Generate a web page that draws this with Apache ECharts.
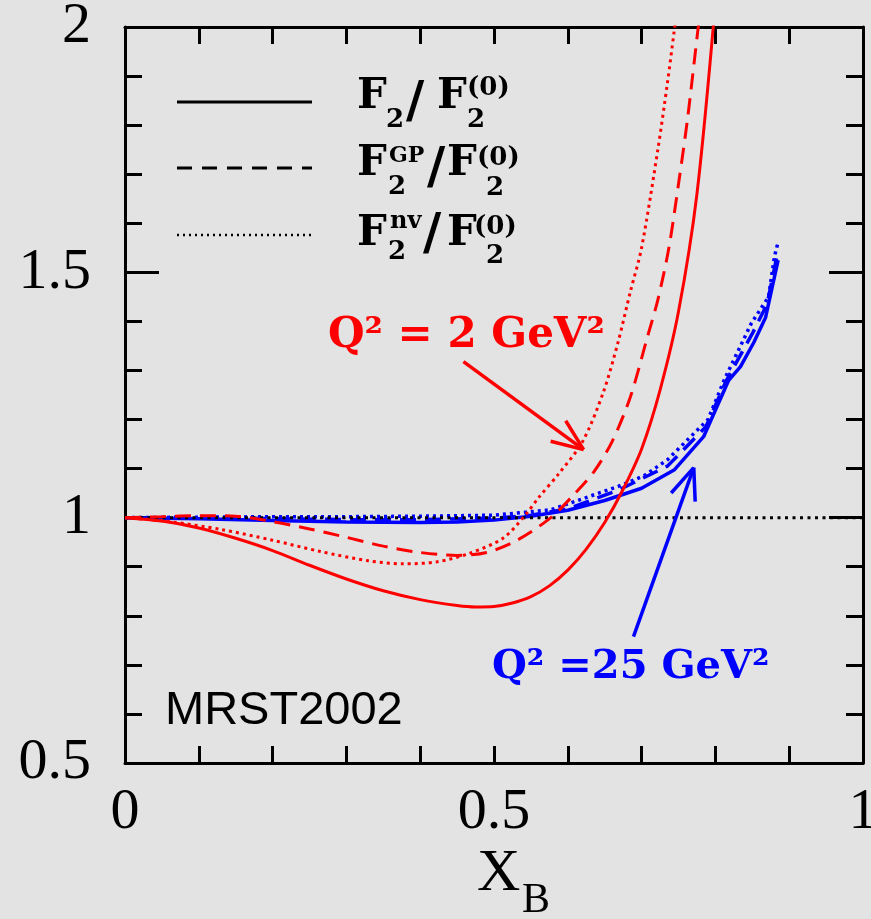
<!DOCTYPE html>
<html><head><meta charset="utf-8">
<script src="https://cdn.jsdelivr.net/npm/echarts@6/dist/echarts.min.js"></script>
<style>html,body{margin:0;padding:0;background:#e3e3e3;} #c{width:871px;height:919px;}</style>
</head><body><div id="c"></div>
<script>
// ---- data (x_B, ratio) ----
const lowQ2Full = [[0,1.0],[0.05,0.993],[0.1,0.979],[0.15,0.958],[0.2,0.933],[0.25,0.903],[0.3,0.875],[0.35,0.851],[0.4,0.833],[0.45,0.821],[0.475,0.818],[0.5,0.819],[0.525,0.826],[0.55,0.839],[0.575,0.861],[0.6,0.893],[0.625,0.936],[0.65,0.99],[0.675,1.058],[0.7,1.14],[0.725,1.26],[0.75,1.42],[0.775,1.66],[0.8,2.05]];
const lowQ2GP = [[0,1.0],[0.05,1.002],[0.1,1.004],[0.15,1.003],[0.2,0.992],[0.25,0.977],[0.3,0.96],[0.35,0.942],[0.4,0.929],[0.45,0.923],[0.49,0.929],[0.53,0.953],[0.577,1.0],[0.61,1.05],[0.636,1.095],[0.66,1.155],[0.685,1.247],[0.708,1.369],[0.722,1.444],[0.737,1.55],[0.75,1.68],[0.762,1.81],[0.776,1.99],[0.785,2.1]];
const lowQ2NV = [[0,1.0],[0.06,0.992],[0.13,0.976],[0.2,0.954],[0.265,0.931],[0.33,0.912],[0.377,0.906],[0.423,0.91],[0.468,0.928],[0.513,0.959],[0.545,1.01],[0.56,1.04],[0.588,1.09],[0.62,1.155],[0.648,1.255],[0.668,1.357],[0.685,1.462],[0.7,1.55],[0.722,1.75],[0.735,1.886],[0.744,1.99],[0.75,2.06]];
const highQ2Full = [[0,1.0],[0.1,0.998],[0.2,0.994],[0.3,0.991],[0.4,0.99],[0.45,0.991],[0.5,0.995],[0.55,1.003],[0.6,1.015],[0.65,1.035],[0.7,1.06],[0.744,1.097],[0.784,1.165],[0.818,1.28],[0.834,1.308],[0.852,1.357],[0.868,1.408],[0.885,1.525]];
const highQ2GP = [[0,1.0],[0.1,1.0],[0.2,0.998],[0.3,0.996],[0.4,0.996],[0.5,0.999],[0.55,1.005],[0.6,1.018],[0.667,1.055],[0.735,1.105],[0.787,1.185],[0.815,1.28],[0.85,1.375],[0.87,1.435],[0.885,1.545]];
const highQ2NV = [[0,1.0],[0.1,1.001],[0.2,1.002],[0.3,1.002],[0.4,1.003],[0.5,1.005],[0.577,1.016],[0.667,1.063],[0.703,1.085],[0.735,1.118],[0.79,1.2],[0.812,1.281],[0.849,1.397],[0.872,1.45],[0.88,1.532],[0.885,1.562]];
const unityLine = [[0,1],[1,1]];
const xTickLabels = ['0','0.5','1'];
const yTickLabels = ['0.5','1','1.5','2'];
// annotation arrows in data coordinates: [from, to]
const redArrow = [[0.4586,1.318],[0.6214,1.1386]];
const blueArrow = [[0.689,0.7575],[0.7707,1.102]];

const SERIF = '"Liberation Serif", "Times New Roman", serif';
const DSERIF = '"DejaVu Serif", serif';
const RED = '#ff0000', BLUE = '#0000ff', BLK = '#000000';
const chart = echarts.init(document.getElementById('c'), null, {renderer:'canvas'});

function lab(list){
  return function(v){
    const s = String(Math.round(v*1000)/1000);
    return list.indexOf(s) >= 0 ? s : '';
  };
}
const tickStyle = {color:BLK, width:3};
function xAxisDef(pos, showLabel){
  return {type:'value', min:0, max:1, interval:0.1, position:pos,
    axisLine:{show:true, onZero:false, lineStyle:{color:BLK, width:3}},
    axisTick:{show:true, inside:true, length:17, lineStyle:tickStyle},
    axisLabel:{show:showLabel, formatter:lab(xTickLabels), fontFamily:SERIF, fontSize:58, color:BLK, margin:21, showMinLabel:true, showMaxLabel:true, hideOverlap:false},
    splitLine:{show:false}};
}
function yAxisDef(pos, showLabel){
  return {type:'value', min:0.5, max:2, interval:0.5, position:pos,
    axisLine:{show:true, onZero:false, lineStyle:{color:BLK, width:3}},
    axisTick:{show:true, inside:true, length:34, lineStyle:tickStyle},
    minorTick:{show:true, splitNumber:5, length:17, lineStyle:tickStyle},
    axisLabel:{show:showLabel, formatter:lab(yTickLabels), fontFamily:SERIF, fontSize:58, color:BLK, margin:34, showMinLabel:true, showMaxLabel:true, hideOverlap:false},
    splitLine:{show:false}};
}
function line(data, color, type, width, smooth){
  return {type:'line', data:data, symbol:'none', smooth:smooth, clip:true, silent:true,
    lineStyle:{color:color, width:width, type:type, cap:'butt'}};
}
chart.setOption({
  animation:false,
  backgroundColor:'#e3e3e3',
  grid:{left:125, right:8, top:27, bottom:156, containLabel:false, outerBoundsMode:'none'},
  xAxis:[xAxisDef('bottom', true), xAxisDef('top', false)],
  yAxis:[yAxisDef('left', true), yAxisDef('right', false)],
  series:[
    line(highQ2NV, BLUE, [3,4], 3.5, false),
    line(highQ2GP, BLUE, [16,9], 3.5, false),
    line(highQ2Full, BLUE, 'solid', 3.5, false),
    line(unityLine, BLK, [3,4.5], 3, false),
    line(lowQ2NV, RED, [3,4], 3, 0.3),
    line(lowQ2GP, RED, [16,9], 3, 0.3),
    line(lowQ2Full, RED, 'solid', 3, 0.3)
  ]
});

const G = [];
function txt(s, x, cy, size, weight, color, fam){
  G.push({type:'text', x:x, y:cy, z:50, silent:true,
    style:{text:s, font:(weight||'normal')+' '+size+'px '+(fam||DSERIF), fill:color||BLK,
      align:'left', verticalAlign:'middle', textAlign:'left', textVerticalAlign:'middle'}});
}
function seg(x1,y1,x2,y2,color,width,dash){
  G.push({type:'line', z:50, silent:true, shape:{x1:x1,y1:y1,x2:x2,y2:y2},
    style:{stroke:color, lineWidth:width, lineDash:dash||null}});
}
// legend keys
seg(177,102,312,102,BLK,3,null);
seg(177,168,312,168,BLK,3,[15,10]);
seg(177,235,312,235,BLK,2.5,[2,4]);
// legend formulas
txt('F',357,97,42,'bold'); txt('2',386,120,26,'bold'); txt('/',406,104,50,'bold');
txt('F',437,97,42,'bold'); txt('(0)',467,88,26,'bold'); txt('2',467,120,26,'bold');
txt('F',357,164,42,'bold'); txt('GP',389,156,22,'bold'); txt('2',388,187,26,'bold'); txt('/',427,170,50,'bold');
txt('F',447,164,42,'bold'); txt('(0)',477,158,26,'bold'); txt('2',486,188,26,'bold');
txt('F',357,234,42,'bold'); txt('nv',390,222,24,'bold'); txt('2',388,252,26,'bold'); txt('/',423,236,50,'bold');
txt('F',447,234,42,'bold'); txt('(0)',474,227,26,'bold'); txt('2',486,256,26,'bold');
// annotations
txt('Q² = 2 GeV²',328,336,42,'bold',RED);
txt('Q² =25 GeV²',492,668,40,'bold',BLUE);
G.push({type:'text', x:165, y:711, z:50, silent:true,
  style:{text:'MRST2002', font:'normal 47px "Liberation Sans", Arial, sans-serif', fill:BLK,
    align:'left', verticalAlign:'middle', textAlign:'left', textVerticalAlign:'middle'}});
// axis title
txt('X',477,874,60,'normal',BLK,SERIF);
txt('B',522,901,42,'normal',BLK,SERIF);
// arrows
function arrow(pair, color){
  const p0 = chart.convertToPixel({gridIndex:0}, pair[0]);
  const p1 = chart.convertToPixel({gridIndex:0}, pair[1]);
  seg(p0[0],p0[1],p1[0],p1[1],color,3.5,null);
  const ang = Math.atan2(p1[1]-p0[1], p1[0]-p0[0]);
  const L = 34, a = 22*Math.PI/180;
  [ang+Math.PI-a, ang+Math.PI+a].forEach(function(t){
    seg(p1[0],p1[1],p1[0]+L*Math.cos(t),p1[1]+L*Math.sin(t),color,3.5,null);
  });
}
arrow(redArrow, RED);
arrow(blueArrow, BLUE);
chart.setOption({graphic:G});
</script></body></html>
